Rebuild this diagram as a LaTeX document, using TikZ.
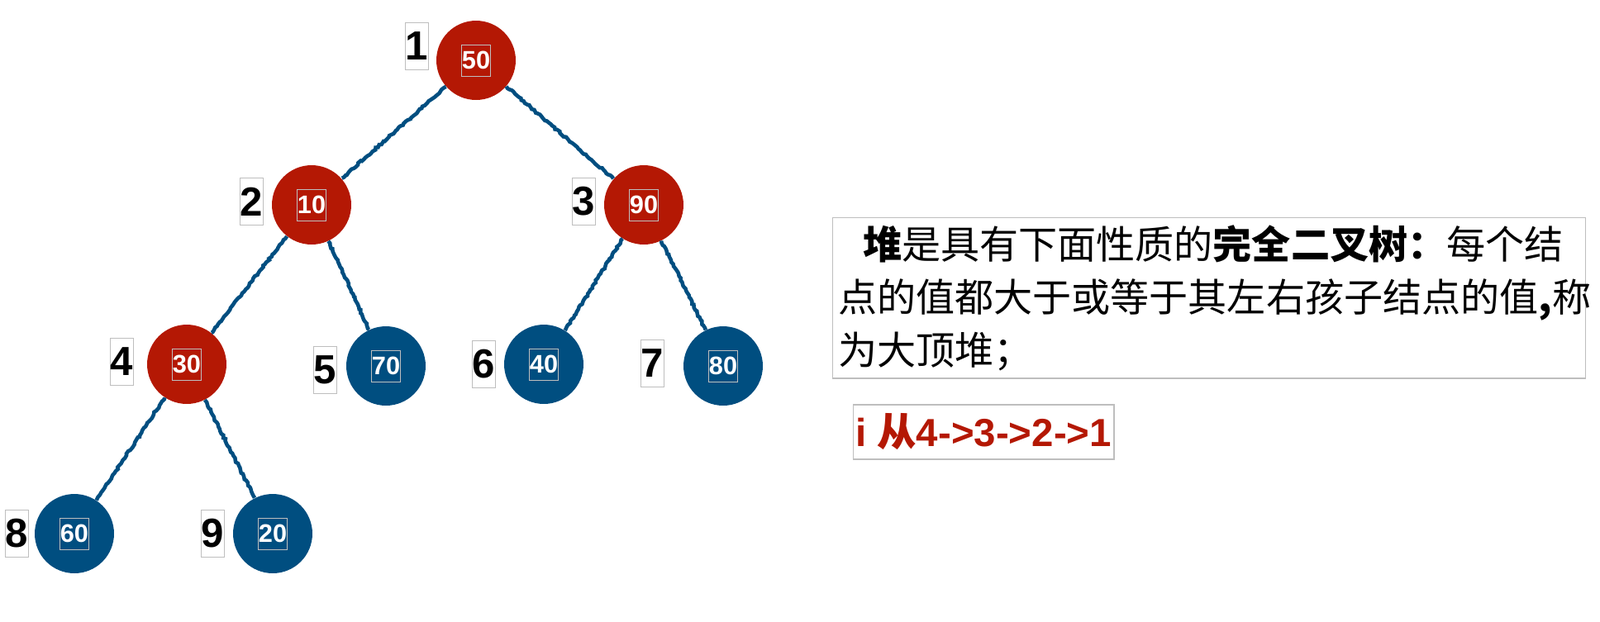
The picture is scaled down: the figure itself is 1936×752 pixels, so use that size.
\documentclass[tikz,border=0pt]{standalone}
\usepackage{fontspec}
\setmainfont{Liberation Sans}
\newfontfamily\cjk{Noto Sans CJK SC}
\usepackage{xcolor}
\usepackage{tikz}
\usetikzlibrary{positioning,decorations.pathmorphing}

\definecolor{heapred}{RGB}{180,24,4}
\definecolor{heapblue}{RGB}{0,78,128}
\definecolor{framegray}{RGB}{190,190,190}

\begin{document}
\begin{tikzpicture}[
  x=0.02cm, y=-0.02cm,
  redball/.style={circle,fill=heapred,minimum size=1.92cm,inner sep=0pt},
  blueball/.style={circle,fill=heapblue,minimum size=1.92cm,inner sep=0pt},
  valbox/.style={draw=framegray,line width=0.5pt,text=white,inner sep=0pt,
    minimum width=0.7cm,minimum height=0.76cm,font=\fontsize{17.5}{20}\selectfont\bfseries},
  idxbox/.style={draw=framegray,line width=0.5pt,fill=white,inner sep=0pt,
    minimum width=0.54cm,minimum height=1.14cm,font=\fontsize{28}{30}\selectfont\bfseries},
  infobox/.style={draw=framegray,line width=0.6pt,inner xsep=0.14cm,inner ysep=0pt,
    minimum width=18.24cm,minimum height=3.9cm,text width=17.96cm,align=left,
    font=\cjk\fontsize{26.8}{36.4}\selectfont},
  stepbox/.style={draw=framegray,line width=0.6pt,text=heapred,inner sep=0pt,
    minimum width=6.32cm,minimum height=1.32cm,font=\fontsize{27}{30}\selectfont\bfseries},
  link/.style={draw=heapblue,line width=2.6pt,decorate,
    decoration={random steps,segment length=1.6pt,amplitude=0.6pt}}
]
\useasboundingbox (0,0) rectangle (1936,752);

% tree
\node[redball] (n1) at (576,73) {};
\node[redball] (n2) at (377,248) {};
\node[redball] (n3) at (779,248) {};
\node[redball] (n4) at (226,441) {};
\node[blueball] (n5) at (467,443) {};
\node[blueball] (n6) at (658,441) {};
\node[blueball] (n7) at (875,443) {};
\node[blueball] (n8) at (90,646) {};
\node[blueball] (n9) at (330,646) {};

\node[valbox] (v1) at (n1) {50};
\node[valbox] (v2) at (n2) {10};
\node[valbox] (v3) at (n3) {90};
\node[valbox] (v4) at (n4) {30};
\node[valbox] (v5) at (n5) {70};
\node[valbox] (v6) at (n6) {40};
\node[valbox] (v7) at (n7) {80};
\node[valbox] (v8) at (n8) {60};
\node[valbox] (v9) at (n9) {20};

\node[idxbox, left=0.18cm of n1, yshift=0.34cm] (l1) {1};
\node[idxbox, left=0.2cm of n2, yshift=0.08cm] (l2) {2};
\node[idxbox, left=0.2cm of n3, yshift=0.08cm] (l3) {3};
\node[idxbox, left=0.32cm of n4, yshift=0.06cm] (l4) {4};
\node[idxbox, left=0.22cm of n5, yshift=-0.1cm] (l5) {5};
\node[idxbox, left=0.2cm of n6] (l6) {6};
\node[idxbox, left=0.46cm of n7, yshift=0.06cm] (l7) {7};
\node[idxbox, left=0.14cm of n8] (l8) {8};
\node[idxbox, left=0.2cm of n9] (l9) {9};

\draw[link] (n1) -- (n2);
\draw[link] (n1) -- (n3);
\draw[link] (n2) -- (n4);
\draw[link] (n2) -- (n5);
\draw[link] (n3) -- (n6);
\draw[link] (n3) -- (n7);
\draw[link] (n4) -- (n8);
\draw[link] (n4) -- (n9);

% notes
\node[infobox] (info) at (1463,360.5) {\hspace*{0.6cm}{\bfseries 堆}是具有下面性质的{\bfseries 完全二叉树：}每个结\\
点的值都大于或等于其左右孩子结点的值{\bfseries ,}称\\
为大顶堆；};
\node[stepbox] (order) at (1190,523) {i {\cjk 从}4->3->2->1};
\end{tikzpicture}
\end{document}
